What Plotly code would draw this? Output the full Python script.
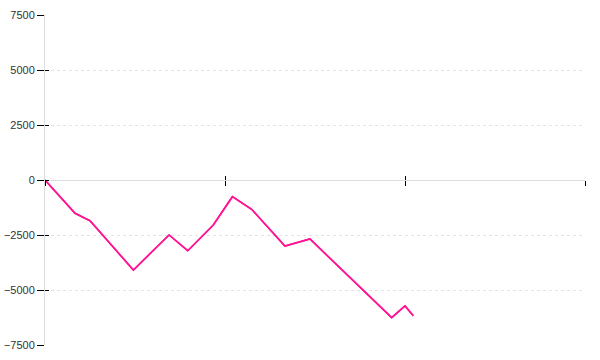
import plotly.graph_objects as go

# Data (x in tick units of 10 per major tick)
x_vals = [0, 1.67, 2.22, 2.5, 4.91, 6.89, 7.93, 9.35, 10.41, 11.48, 13.33, 14.72, 19.26, 20.0, 20.46]
y_vals = [0, -1515, -1742, -1850, -4091, -2500, -3214, -2045, -759, -1333, -3000, -2682, -6259, -5727, -6168]

y_ticks = [-7500, -5000, -2500, 0, 2500, 5000, 7500]
x_ticks = [0, 10, 20, 30]

fig = go.Figure()
fig.add_trace(go.Scatter(x=x_vals, y=y_vals, mode="lines",
                         line=dict(color="#ff1493", width=1.6),
                         hoverinfo="skip", showlegend=False))
# same series on overlay axes so the inner half of the crossing ticks is drawn
fig.add_trace(go.Scatter(x=x_vals, y=y_vals, mode="lines", xaxis="x2", yaxis="y2",
                         line=dict(color="#ff1493", width=1.6),
                         hoverinfo="skip", showlegend=False))

fig.update_layout(
    width=600, height=360,
    margin=dict(l=45, r=15, t=15, b=15, autoexpand=False),
    paper_bgcolor="white", plot_bgcolor="white",
    font=dict(family="Liberation Sans, Arial, sans-serif", size=11, color="#333"),
    xaxis=dict(range=[0, 30], tickvals=x_ticks, showticklabels=False,
               ticks="outside", ticklen=5, tickwidth=1, tickcolor="#000",
               showgrid=False, zeroline=False, automargin=False,
               showline=True, linecolor="#dddddd", linewidth=1,
               anchor="free", position=0.5),
    xaxis2=dict(range=[0, 30], tickvals=x_ticks, showticklabels=False,
                ticks="inside", ticklen=4, tickwidth=1, tickcolor="#000",
                showgrid=False, zeroline=False, showline=False, automargin=False,
                overlaying="x", anchor="free", position=0.5),
    yaxis=dict(range=[-7500, 7500], tickvals=y_ticks, ticks="outside",
               ticklen=7, tickwidth=1, tickcolor="#000", automargin=False,
               showgrid=True, gridcolor="#e3e3e3", griddash="3px,3px", gridwidth=1,
               zeroline=True, zerolinecolor="#dddddd", zerolinewidth=1,
               showline=True, linecolor="#dddddd", linewidth=1,
               tickfont=dict(size=11, color="#333")),
    yaxis2=dict(range=[-7500, 7500], tickvals=y_ticks, showticklabels=False,
                ticks="inside", ticklen=4, tickwidth=1, tickcolor="#000",
                showgrid=False, zeroline=False, showline=False, automargin=False,
                overlaying="y", side="left"),
)

fig.write_html("out.html")
